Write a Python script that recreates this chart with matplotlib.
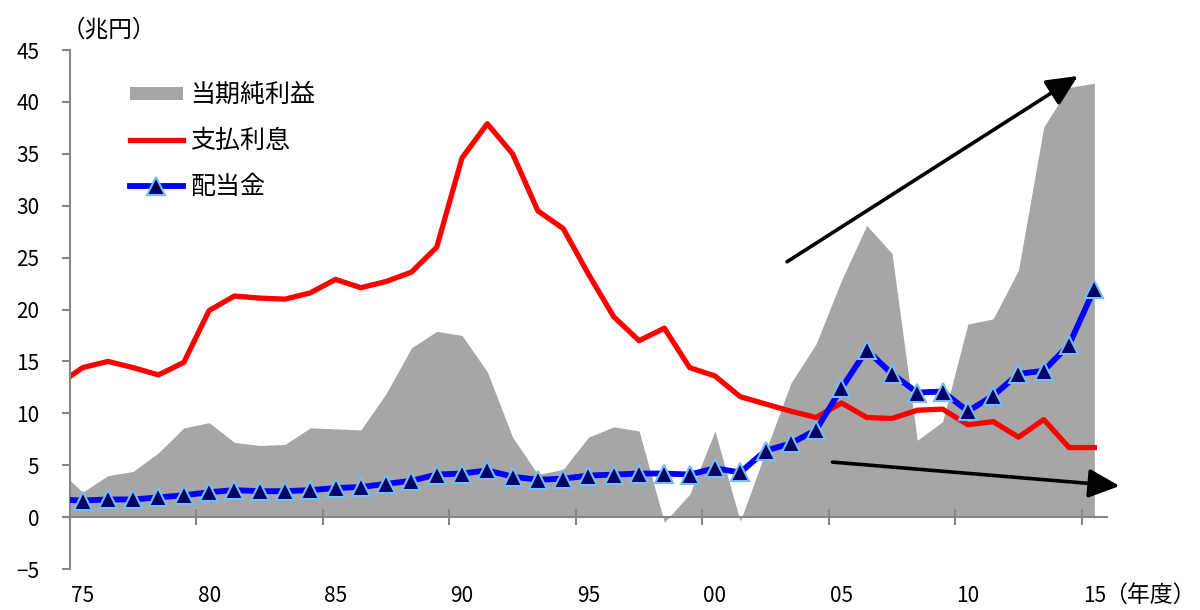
import matplotlib
matplotlib.use('Agg')
import matplotlib.pyplot as plt
import numpy as np

# ---------------------------------------------------

years = np.arange(1974, 2016)   # fiscal years (1974 only partly visible at the left edge)

net_income = [4.7, 2.4, 4.0, 4.4, 6.2, 8.6, 9.1, 7.2, 6.9, 7.0,
              8.6, 8.5, 8.4, 11.9, 16.3, 17.9, 17.5, 14.0, 7.7, 4.1,
              4.6, 7.7, 8.7, 8.3, -0.5, 2.2, 8.3, -0.4, 6.3, 12.9,
              16.7, 22.8, 28.1, 25.4, 7.4, 9.2, 18.6, 19.1, 23.8, 37.6,
              41.4, 41.8]

interest = [12.7, 14.4, 15.0, 14.4, 13.7, 14.9, 19.9, 21.3, 21.1, 21.0,
            21.6, 22.9, 22.1, 22.7, 23.6, 26.0, 34.6, 37.9, 35.0, 29.5,
            27.8, 23.4, 19.3, 17.0, 18.2, 14.4, 13.6, 11.6, 10.9, 10.2,
            9.6, 11.0, 9.6, 9.5, 10.3, 10.4, 8.9, 9.2, 7.7, 9.4,
            6.7, 6.7]

dividends = [1.7, 1.6, 1.7, 1.7, 1.9, 2.1, 2.4, 2.6, 2.5, 2.5,
             2.6, 2.8, 2.9, 3.2, 3.5, 4.1, 4.2, 4.5, 3.9, 3.6,
             3.7, 4.0, 4.1, 4.2, 4.2, 4.1, 4.7, 4.3, 6.4, 7.1,
             8.4, 12.4, 16.1, 13.8, 12.0, 12.1, 10.2, 11.7, 13.8, 14.1,
             16.6, 22.0]

label_years = [1975, 1980, 1985, 1990, 1995, 2000, 2005, 2010, 2015]
label_text = ['75', '80', '85', '90', '95', '00', '05', '10', '15']

# ---------------------------------------------------

plt.rcParams['font.family'] = ['Noto Sans CJK JP', 'DejaVu Sans']
axis_grey = '#868686'

fig = plt.figure(figsize=(12, 6.1), dpi=100)
ax = fig.add_axes([0.0583, 0.0672, 0.8642, 0.8508])

ax.fill_between(years, 0, net_income, color='#a6a6a6', lw=0, label='当期純利益', zorder=1)
ax.plot(years, interest, color='#ff0000', lw=3.8, label='支払利息', zorder=2)
ax.plot(years, dividends, color='#0000ff', lw=4.2, marker='^', ms=13.5,
        mfc='#000066', mec='#75bdf5', mew=1.5, label='配当金', zorder=3)

ax.set_xlim(1974.5, 2015.5)
ax.set_ylim(-5, 45)
ax.set_yticks(range(-5, 50, 5))

for s in ['top', 'right']:
    ax.spines[s].set_visible(False)
ax.spines['left'].set_color(axis_grey)
ax.spines['left'].set_linewidth(1.5)
ax.spines['bottom'].set_position(('data', 0))
ax.spines['bottom'].set_color(axis_grey)
ax.spines['bottom'].set_linewidth(1.5)

# tick marks between categories, labels under the category centres
ax.set_xticks(np.arange(1979.5, 2015, 5))
ax.tick_params(axis='x', which='major', direction='inout', length=11, width=1.5,
               color=axis_grey, labelbottom=False)
ax.set_xticks(label_years, label_text, minor=True)
ax.tick_params(axis='x', which='minor', length=0, pad=49, labelsize=15)
ax.tick_params(axis='y', direction='out', length=6, width=1.5, color=axis_grey,
               pad=16, labelsize=15)

ax.legend(loc='upper left', bbox_to_anchor=(0.058, 0.938), frameon=False, fontsize=18,
          handlelength=2.1, handleheight=0.45, handletextpad=0.3, labelspacing=0.8,
          borderpad=0, borderaxespad=0)

arrow = dict(arrowstyle='-|>,head_length=0.9,head_width=0.42', color='black', lw=2.6,
             shrinkA=0, shrinkB=0, mutation_scale=21)
ax.annotate('', xy=(2014.35, 42.5), xytext=(2002.85, 24.6), arrowprops=arrow,
            annotation_clip=False, zorder=5)
ax.annotate('', xy=(2016.0, 3.0), xytext=(2004.65, 5.3), arrowprops=arrow,
            annotation_clip=False, zorder=5)

fig.text(62 / 1200, 1 - 30 / 610, '（兆円）', fontsize=17, va='center', ha='left')
fig.text(1196 / 1200, 1 - 595 / 610, '（年度）', fontsize=16.5, va='center', ha='right')

fig.savefig('out.png', dpi=100)
